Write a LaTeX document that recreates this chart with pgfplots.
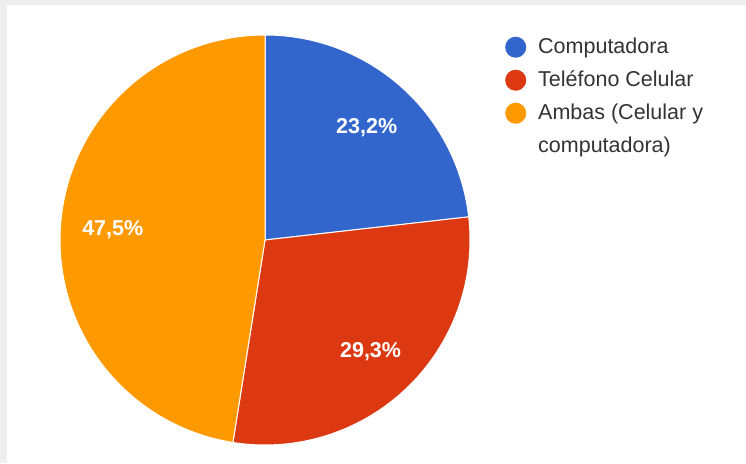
\documentclass[border=0pt]{standalone}
\usepackage{pgfplots}
\pgfplotsset{compat=1.18}
\usepackage{pgfplotstable}
\usepackage{fontspec}
\setmainfont{Liberation Sans}
\definecolor{cblue}{HTML}{3366CC}
\definecolor{cred}{HTML}{DC3912}
\definecolor{corange}{HTML}{FF9900}
\definecolor{ctext}{HTML}{333333}
\definecolor{cframe}{HTML}{EEEEEE}

\pgfplotstableread{
share
23.2
29.3
47.5
}\piedata

\begin{document}%
\begin{tikzpicture}
\pgfplotstablegetelem{0}{share}\of\piedata \let\va\pgfplotsretval
\pgfplotstablegetelem{1}{share}\of\piedata \let\vb\pgfplotsretval
\pgfplotstablegetelem{2}{share}\of\piedata \let\vc\pgfplotsretval
\pgfmathsetmacro\aA{90}
\pgfmathsetmacro\aB{\aA-3.6*\va}
\pgfmathsetmacro\aC{\aB-3.6*\vb}
\pgfmathsetmacro\aD{\aC-3.6*\vc}
\pgfmathsetmacro\mA{(\aA+\aB)/2}
\pgfmathsetmacro\mB{(\aB+\aC)/2}
\pgfmathsetmacro\mC{(\aC+\aD)/2}
\path[use as bounding box, fill=white] (0pt,0pt) rectangle (746pt,463pt);
\fill[cframe] (0pt,458pt) rectangle (746pt,463pt);
\fill[cframe] (0pt,0pt) rectangle (7pt,463pt);
\begin{axis}[
  at={(265pt,223pt)}, anchor=center,
  scale only axis, width=410pt, height=410pt,
  xmin=-1, xmax=1, ymin=-1, ymax=1,
  hide axis, clip=false,
  legend cell align=left,
  legend style={
    at={(axis description cs:1.08537,0.9963)}, anchor=north west,
    draw=none, fill=none, inner sep=0pt, row sep=12pt, column sep=12pt,
    font=\fontsize{21.5}{33}\selectfont, text=ctext,
    cells={anchor=west},
    nodes={inner sep=0pt, text height=17pt, text depth=4pt},
  },
]
\addplot[fill=cblue, draw=white, line width=1pt, domain=\aB:\aA, samples=90, variable=\t,
  legend image code/.code={\fill[cblue] (0pt,0pt) circle (10pt);}]
  ({cos(\t)},{sin(\t)}) -- (axis cs:0,0) -- cycle;
\addlegendentry{Computadora}
\addplot[fill=cred, draw=white, line width=1pt, domain=\aC:\aB, samples=120, variable=\t,
  legend image code/.code={\fill[cred] (0pt,0pt) circle (10pt);}]
  ({cos(\t)},{sin(\t)}) -- (axis cs:0,0) -- cycle;
\addlegendentry{Teléfono Celular}
\addplot[fill=corange, draw=white, line width=1pt, domain=\aD:\aC, samples=180, variable=\t,
  legend image code/.code={\fill[corange] (0pt,0pt) circle (10pt);}]
  ({cos(\t)},{sin(\t)}) -- (axis cs:0,0) -- cycle;
\addlegendentry{\smash{\begin{tabular}[t]{@{}l@{}}Ambas (Celular y\\computadora)\end{tabular}}}
\node[text=white, font=\fontsize{21.5}{26}\selectfont\bfseries, text depth=0pt, inner sep=0pt, anchor=center]
  at (axis cs:{0.745*cos(\mA)},{0.745*sin(\mA)}) {23,2\%};
\node[text=white, font=\fontsize{21.5}{26}\selectfont\bfseries, text depth=0pt, inner sep=0pt, anchor=center]
  at (axis cs:{0.745*cos(\mB)},{0.745*sin(\mB)}) {29,3\%};
\node[text=white, font=\fontsize{21.5}{26}\selectfont\bfseries, text depth=0pt, inner sep=0pt, anchor=center]
  at (axis cs:{0.745*cos(\mC)},{0.745*sin(\mC)}) {47,5\%};
\end{axis}
\end{tikzpicture}%
\end{document}
